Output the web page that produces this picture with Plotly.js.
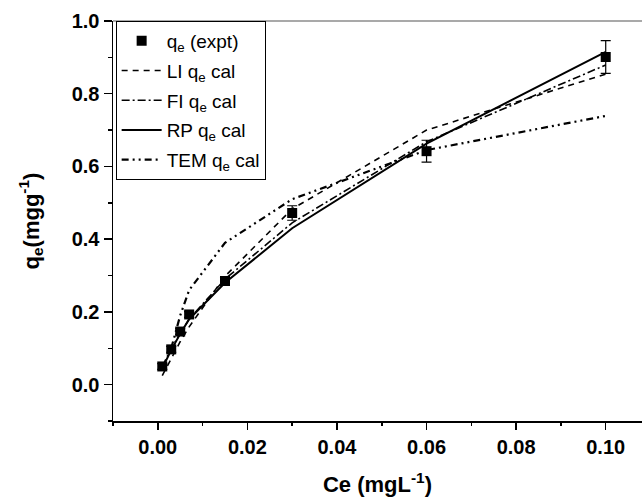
<!DOCTYPE html>
<html>
<head>
<meta charset="utf-8">
<script src="https://cdn.plot.ly/plotly-3.0.1.min.js"></script>
<style>html,body{margin:0;padding:0;background:#fff;}#chart{width:642px;height:501px;}</style>
</head>
<body>
<div id="chart"></div>
<script>
// Data
var ce = [0.001, 0.003, 0.005, 0.007, 0.015, 0.03, 0.06, 0.1];
var qeExpt = [0.050, 0.097, 0.146, 0.193, 0.285, 0.472, 0.642, 0.901];
var qeErr = [0.008, 0.008, 0.008, 0.008, 0.010, 0.020, 0.030, 0.045];
var liCal = [0.025, 0.073, 0.118, 0.159, 0.298, 0.483, 0.700, 0.854];
var fiCal = [0.050, 0.100, 0.140, 0.180, 0.290, 0.445, 0.668, 0.879];
var rpCal = [0.045, 0.095, 0.140, 0.180, 0.280, 0.430, 0.663, 0.915];
var ceTem = [0.003, 0.005, 0.007, 0.015, 0.03, 0.06, 0.1];
var temCal = [0.100, 0.190, 0.260, 0.390, 0.510, 0.645, 0.739];
var legendNames = ['q<sub>e</sub> (expt)', 'LI q<sub>e</sub> cal', 'FI q<sub>e</sub> cal', 'RP q<sub>e</sub> cal', 'TEM q<sub>e</sub> cal'];

var traces = [
  {x: ce, y: qeExpt, name: legendNames[0], legendgroup: 'g0', mode: 'markers', type: 'scatter',
   marker: {symbol: 'square', size: 10, color: '#000'},
   error_y: {type: 'data', array: qeErr, visible: true, color: '#000', thickness: 1.2, width: 5}},
  {x: ce, y: liCal, name: legendNames[1], legendgroup: 'g1', mode: 'lines', type: 'scatter',
   line: {color: '#000', width: 1.6, dash: '6px,5px'}},
  {x: ce, y: fiCal, name: legendNames[2], legendgroup: 'g2', mode: 'lines', type: 'scatter',
   line: {color: '#000', width: 1.6, dash: '8px,3px,2px,3px'}},
  {x: ce, y: rpCal, name: legendNames[3], legendgroup: 'g3', mode: 'lines', type: 'scatter',
   line: {color: '#000', width: 2}},
  {x: ceTem, y: temCal, name: legendNames[4], legendgroup: 'g4', mode: 'lines', type: 'scatter',
   line: {color: '#000', width: 2.2, dash: '7px,4px,2px,4px,2px,4px'}}
];

var layout = {
  width: 642, height: 501,
  margin: {l: 113, r: 0, t: 21, b: 80},
  paper_bgcolor: '#fff', plot_bgcolor: '#fff',
  font: {family: 'Liberation Sans, Arial, sans-serif', color: '#000'},
  showlegend: true,
  legend: {x: 0.005, y: 1, xanchor: 'left', yanchor: 'top',
    bordercolor: '#000', borderwidth: 1, bgcolor: '#fff',
    font: {size: 19, family: 'Liberation Sans, Arial, sans-serif'},
    itemwidth: 40, tracegroupgap: 2},
  xaxis: {
    range: [-0.01, 0.1081], tick0: 0, dtick: 0.02, tickformat: '.2f',
    ticks: 'outside', ticklen: 7, tickwidth: 1.5, tickcolor: '#000',
    minor: {dtick: 0.01, ticks: 'outside', ticklen: 3, tickwidth: 1.5, tickcolor: '#000'},
    showline: true, linecolor: '#000', linewidth: 1.5,
    showgrid: false, zeroline: false,
    tickfont: {size: 20, weight: 'bold'},
    title: {text: 'Ce (mgL<sup>-1</sup>)', font: {size: 22, weight: 'bold'}, standoff: 20}
  },
  yaxis: {
    range: [-0.1, 1.0], tick0: 0, dtick: 0.2, tickformat: '.1f',
    ticks: 'outside', ticklen: 8, tickwidth: 1.5, tickcolor: '#000',
    minor: {dtick: 0.1, ticks: 'outside', ticklen: 4, tickwidth: 1.5, tickcolor: '#000'},
    showline: true, linecolor: '#000', linewidth: 1.5,
    showgrid: false, zeroline: false,
    tickfont: {size: 20, weight: 'bold'},
    title: {text: 'q<sub>e</sub>(mgg<sup>-1</sup>)', font: {size: 22, weight: 'bold'}, standoff: 26}
  },
  shapes: [{type: 'line', xref: 'paper', yref: 'paper', x0: 0, x1: 1, y0: 1, y1: 1,
    line: {color: '#555', width: 1.2}}]
};

Plotly.newPlot('chart', traces, layout, {staticPlot: true, displayModeBar: false});
</script>
</body>
</html>
